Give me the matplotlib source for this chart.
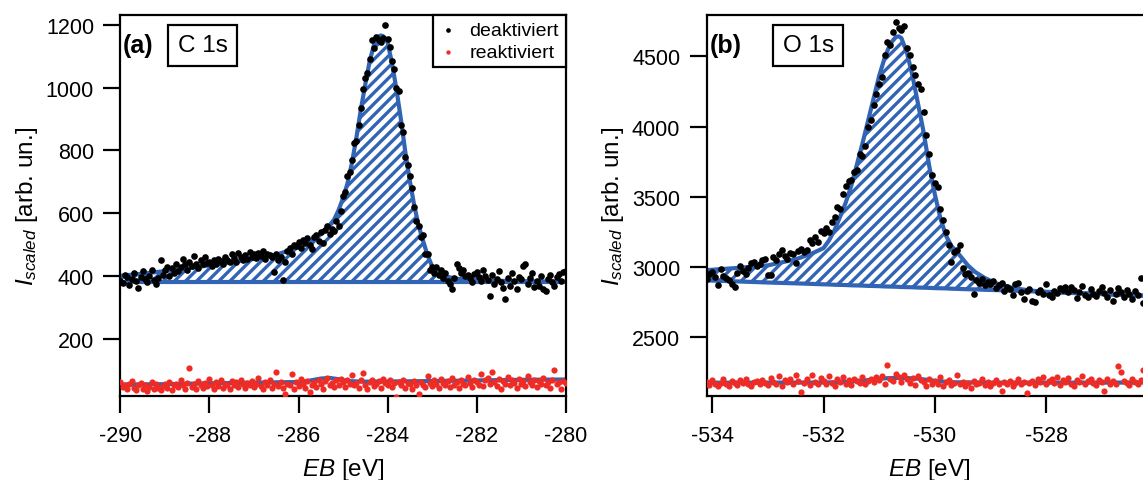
import numpy as np
import matplotlib
matplotlib.use("Agg")
import matplotlib.pyplot as plt

plt.rcParams['font.family'] = ['Liberation Sans', 'DejaVu Sans']
plt.rcParams['mathtext.fontset'] = 'custom'
plt.rcParams['mathtext.rm'] = 'Liberation Sans'
plt.rcParams['mathtext.it'] = 'Liberation Sans:italic'
plt.rcParams['axes.unicode_minus'] = False
plt.rcParams['hatch.linewidth'] = 2.4

BLUE = '#3164b4'
RED = '#ee2b24'

# ---- panel (a): C 1s ----
xa = np.linspace(-290, -280, 201)
deak_a = [383, 378, 405, 396, 372, 390, 410, 385, 362, 398, 415, 392, 380, 401, 420, 388, 376, 395, 452, 405,
          418, 430, 402, 425, 410, 440, 415, 428, 455, 438, 420, 445, 432, 465, 440, 425, 450, 438, 460, 442,
          445, 432, 450, 440, 455, 448, 438, 462, 450, 445, 470, 458, 446, 475, 460, 452, 468, 455, 478, 462,
          470, 458, 475, 465, 480, 455, 472, 468, 462, 412, 470, 452, 462, 388, 445, 480, 488, 470, 500, 495,
          510, 490, 515, 505, 520, 498, 485, 525, 530, 512, 540, 505, 548, 560, 535, 550, 545, 575, 560, 608,
          655, 668, 720, 730, 770, 825, 830, 880, 935, 995, 1030, 1045, 1090, 1150, 1125, 1160, 1150, 1145, 1158, 1200,
          1155, 1130, 1085, 1060, 1000, 990, 880, 860, 780, 755, 720, 680, 620, 575, 560, 525, 530, 470, 470, 420,
          428, 410, 430, 405, 420, 395, 410, 385, 375, 360, 395, 440, 425, 410, 418, 400, 405, 395, 380, 408,
          412, 398, 385, 420, 402, 388, 337, 405, 375, 392, 415, 380, 362, 327, 395, 368, 410, 385, 360, 398,
          392, 432, 440, 375, 395, 410, 365, 385, 370, 400, 360, 352, 392, 405, 380, 370, 398, 408, 385, 412, 415]
reak_a = [62, 48, 55, 40, 58, 65, 45, 38, 52, 60, 42, 55, 35, 48, 62, 40, 58, 45, 36, 50,
          57, 45, 62, 38, 52, 58, 47, 70, 55, 42, 60, 107, 48, 58, 40, 65, 52, 44, 60, 50,
          72, 55, 42, 62, 50, 68, 45, 58, 52, 40, 65, 55, 62, 48, 70, 58, 45, 60, 52, 65,
          48, 58, 75, 50, 42, 62, 55, 68, 45, 58, 95, 50, 62, 45, 24, 58, 52, 88, 40, 62,
          50, 72, 58, 45, 65, 30, 55, 62, 48, 70, 58, 42, 66, 75, 52, 60, 48, 68, 55, 72,
          62, 48, 70, 58, 85, 52, 60, 45, 68, 92, 55, 40, 62, 70, 50, 58, 65, 45, 72, 60,
          55, 68, 48, 60, 14, 62, 52, 70, 45, 60, 58, 40, 66, 52, 25, 62, 55, 48, 82, 60,
          50, 68, 58, 45, 72, 60, 52, 66, 48, 75, 55, 62, 45, 70, 58, 52, 80, 60, 48, 68,
          62, 55, 88, 50, 68, 75, 58, 95, 62, 50, 72, 40, 65, 58, 78, 52, 68, 60, 45, 72,
          58, 65, 50, 82, 62, 55, 70, 48, 66, 58, 75, 52, 62, 45, 68, 100, 58, 62, 40, 66, 60]

fit_xa = [-290.0, -289.5, -289.0, -288.5, -288.0, -287.5, -287.0, -286.5, -286.0, -285.8,
          -285.6, -285.4, -285.3, -285.2, -285.1, -285.0, -284.9, -284.8, -284.7, -284.6,
          -284.5, -284.4, -284.3, -284.2, -284.15, -284.1, -284.0, -283.9, -283.8, -283.7,
          -283.6, -283.5, -283.4, -283.3, -283.2, -283.1, -283.0, -282.9, -282.8, -282.6,
          -282.4, -282.0, -281.5, -281.0, -280.5, -280.0]
fit_ya = [401, 408, 416, 425, 434, 444, 455, 468, 492, 507,
          525, 548, 562, 580, 610, 648, 695, 760, 840, 930,
          1010, 1085, 1138, 1162, 1166, 1164, 1145, 1078, 995, 900,
          795, 704, 625, 560, 512, 466, 432, 416, 405, 396,
          391, 387, 385, 384, 383, 383]
bg_ya = [381] * len(fit_xa)

rfit_xa = [-290.0, -289.0, -288.0, -287.0, -286.0, -285.8, -285.5, -285.3, -285.1, -284.9,
           -284.5, -283.0, -282.0, -281.0, -280.0]
rfit_ya = [55, 56, 59, 61, 63, 66, 74, 76, 72, 66, 64, 66, 68, 70, 71]

# ---- panel (b): O 1s ----
xb = np.linspace(-534.1, -526.1, 161)
deak_b = [2917, 2950, 2964, 2930, 2869, 2988, 2935, 2920, 2905, 2880, 2858, 2960, 3007, 2975, 2950, 2995, 3030, 3036, 3010, 3020,
          3047, 3060, 2945, 2945, 3075, 3050, 3090, 3118, 3080, 3059, 3100, 3095, 3030, 3115, 3130, 3105, 3120, 3196, 3170, 3213,
          3180, 3260, 3245, 3277, 3249, 3320, 3356, 3430, 3415, 3522, 3580, 3616, 3623, 3676, 3690, 3806, 3794, 3865, 3996, 4050,
          4150, 4230, 4300, 4352, 4506, 4601, 4580, 4672, 4744, 4700, 4684, 4719, 4560, 4506, 4423, 4364, 4300, 4269, 4103, 3937,
          3806, 3652, 3600, 3570, 3415, 3332, 3249, 3154, 3036, 3107, 3118, 3154, 2990, 2952, 2960, 2929, 2810, 2905, 2890, 2915,
          2870, 2895, 2880, 2900, 2850, 2875, 2890, 2830, 2860, 2845, 2800, 2880, 2890, 2820, 2775, 2830, 2845, 2760, 2750, 2825,
          2840, 2810, 2880, 2800, 2790, 2830, 2815, 2850, 2835, 2860, 2820, 2855, 2840, 2780, 2825, 2865, 2800, 2790, 2845, 2810,
          2795, 2830, 2860, 2815, 2790, 2835, 2760, 2805, 2850, 2820, 2790, 2840, 2810, 2775, 2830, 2800, 2920, 2745, 2790, 2810,
          2780]
reak_b = [2185, 2160, 2195, 2170, 2150, 2178, 2200, 2165, 2155, 2188, 2172, 2160, 2195, 2175, 2205, 2168, 2150, 2182, 2190, 2165,
          2198, 2175, 2160, 2210, 2185, 2170, 2225, 2150, 2195, 2180, 2205, 2165, 2230, 2188, 2114, 2175, 2200, 2160, 2235, 2185,
          2170, 2210, 2190, 2165, 2228, 2178, 2155, 2200, 2185, 2215, 2170, 2195, 2160, 2205, 2188, 2175, 2220, 2165, 2190, 2200,
          2180, 2215, 2195, 2225, 2170, 2305, 2205, 2190, 2240, 2215, 2180, 2230, 2200, 2175, 2210, 2160, 2228, 2195, 2185, 2150,
          2205, 2170, 2190, 2165, 2215, 2150, 2180, 2198, 2160, 2175, 2230, 2168, 2185, 2155, 2178, 2140, 2190, 2165, 2175, 2200,
          2160, 2185, 2150, 2178, 2195, 2165, 2120, 2180, 2170, 2190, 2155, 2178, 2200, 2165, 2185, 2100, 2175, 2190, 2160, 2205,
          2180, 2215, 2165, 2190, 2200, 2175, 2220, 2160, 2195, 2185, 2210, 2170, 2150, 2198, 2180, 2225, 2165, 2190, 2205, 2175,
          2160, 2195, 2180, 2120, 2200, 2170, 2188, 2165, 2298, 2250, 2190, 2175, 2160, 2200, 2185, 2170, 2195, 2265, 2175, 2160,
          2190]

fit_xb = [-534.1, -533.5, -533.0, -532.5, -532.2, -532.0, -531.9, -531.8, -531.7, -531.6,
          -531.5, -531.4, -531.3, -531.2, -531.1, -531.0, -530.9, -530.8, -530.7, -530.65,
          -530.6, -530.5, -530.4, -530.3, -530.2, -530.1, -530.0, -529.9, -529.8, -529.7,
          -529.55, -529.4, -529.27, -529.1, -528.9, -528.6, -528.3, -528.0, -527.5, -527.0,
          -526.5, -526.1]
fit_yb = [2978, 2995, 3012, 3055, 3098, 3135, 3190, 3265, 3360, 3460,
          3580, 3730, 3880, 4040, 4200, 4360, 4490, 4590, 4638, 4642,
          4630, 4525, 4360, 4160, 3960, 3720, 3520, 3350, 3225, 3150,
          3083, 3010, 2964, 2922, 2885, 2852, 2833, 2824, 2816, 2808,
          2800, 2795]
bg_yb = [2905, 2897, 2890, 2884, 2880, 2877, 2876, 2874, 2873, 2872,
         2870, 2869, 2868, 2866, 2865, 2864, 2862, 2861, 2860, 2859,
         2858, 2857, 2856, 2854, 2853, 2852, 2850, 2849, 2848, 2846,
         2844, 2842, 2841, 2838, 2836, 2832, 2828, 2822, 2815, 2808,
         2800, 2795]

rfit_xb = [-534.1, -532.0, -531.6, -531.2, -530.9, -530.6, -530.3, -530.0, -529.7, -529.0, -526.1]
rfit_yb = [2177, 2178, 2182, 2195, 2208, 2212, 2205, 2190, 2180, 2177, 2178]

fig = plt.figure(figsize=(11.43, 4.81), dpi=100)
ax1 = fig.add_axes([0.1054, 0.174, 0.3894, 0.7933])
ax2 = fig.add_axes([0.6183, 0.174, 0.3893, 0.7933])


def draw(ax, x, deak, reak, fx, fy, bg, rfx, rfy):
    ax.fill_between(fx, bg, fy, facecolor='white', edgecolor=BLUE, hatch='///', linewidth=0, zorder=1)
    ax.plot(fx, fy, color=BLUE, lw=3.0, zorder=2)
    ax.plot(fx, bg, color=BLUE, lw=3.0, zorder=2)
    ax.plot(rfx, rfy, color=BLUE, lw=3.0, zorder=2)
    ax.scatter(x, deak, s=23, color='black', lw=0, zorder=3, label='deaktiviert')
    ax.scatter(x, reak, s=20, color=RED, lw=0, zorder=3, label='reaktiviert')
    for sp in ax.spines.values():
        sp.set_linewidth(1.6)
    ax.tick_params(direction='out', length=12, width=1.6, labelsize=15.5, pad=7)
    ax.tick_params(axis='x', pad=9)
    ax.set_xlabel(r'$EB$ [eV]', fontsize=17.5, labelpad=7)
    ax.set_ylabel(r'$I_{scaled}$ [arb. un.]', fontsize=17.5, labelpad=4)


draw(ax1, xa, deak_a, reak_a, fit_xa, fit_ya, bg_ya, rfit_xa, rfit_ya)
draw(ax2, xb, deak_b, reak_b, fit_xb, fit_yb, bg_yb, rfit_xb, rfit_yb)

ax1.set_xlim(-290, -280)
ax1.set_ylim(17.5, 1232)
ax1.set_xticks([-290, -288, -286, -284, -282, -280])
ax1.set_yticks([200, 400, 600, 800, 1000, 1200])

ax2.set_xlim(-534.1, -526.1)
ax2.set_ylim(2080, 4796)
ax2.set_xticks([-534, -532, -530, -528])
ax2.set_yticks([2500, 3000, 3500, 4000, 4500])

box = dict(boxstyle='square,pad=0.4', facecolor='white', edgecolor='black', lw=1.6)
ax1.text(0.006, 0.92, '(a)', transform=ax1.transAxes, fontsize=18, fontweight='bold', va='center', ha='left')
ax1.text(0.185, 0.92, 'C 1s', transform=ax1.transAxes, fontsize=17.5, va='center', ha='center', bbox=box)
ax2.text(0.006, 0.92, '(b)', transform=ax2.transAxes, fontsize=18, fontweight='bold', va='center', ha='left')
ax2.text(0.228, 0.92, 'O 1s', transform=ax2.transAxes, fontsize=17.5, va='center', ha='center', bbox=box)

leg = ax1.legend(loc='upper right', borderaxespad=0, fancybox=False, edgecolor='black',
                 fontsize=14, handlelength=0.8, handletextpad=0.7, borderpad=0.35,
                 labelspacing=0.2, framealpha=1, markerscale=0.7)
leg.get_frame().set_linewidth(1.6)

fig.savefig('out.png', dpi=100)
